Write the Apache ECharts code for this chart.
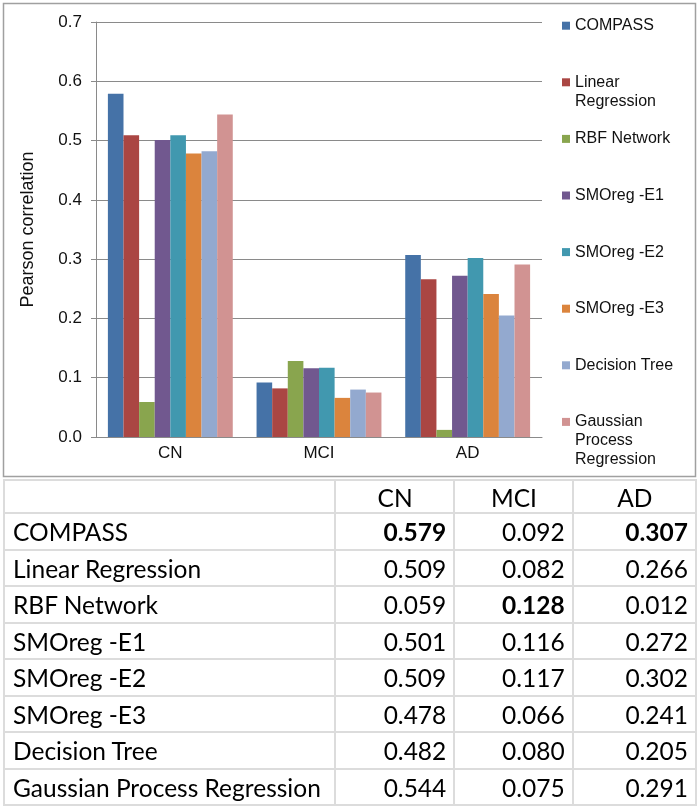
<!DOCTYPE html>
<html>
<head>
<meta charset="utf-8">
<script src="https://cdn.jsdelivr.net/npm/echarts@6/dist/echarts.min.js"></script>
<style>
  body { margin: 0; background: #fff; }
  #chart { position: absolute; left: 0; top: 0; width: 700px; height: 480px; }
  #tbl {
    position: absolute; left: 3px; top: 479px; width: 694px;
    border-collapse: collapse; font-family: Lato, sans-serif; font-size: 24.5px; color: #000;
  }
  #tbl td { border: 2px solid #dcdcdc; padding: 2px 7px 0 8px; height: 32.5px; line-height: 32px; white-space: nowrap; }
  #tbl tr.head td { height: 29px; line-height: 29px; text-align: center; padding-top: 2px; }
  #tbl td.num { text-align: right; }
</style>
</head>
<body>
<div id="chart"></div>
<table id="tbl"></table>
<script>
const categories = ['CN', 'MCI', 'AD'];
const methods = ['COMPASS', 'Linear Regression', 'RBF Network', 'SMOreg -E1',
                 'SMOreg -E2', 'SMOreg -E3', 'Decision Tree', 'Gaussian Process Regression'];
const cnValues  = [0.579, 0.509, 0.059, 0.501, 0.509, 0.478, 0.482, 0.544];
const mciValues = [0.092, 0.082, 0.128, 0.116, 0.117, 0.066, 0.080, 0.075];
const adValues  = [0.307, 0.266, 0.012, 0.272, 0.302, 0.241, 0.205, 0.291];
const colors = ['#4572A7', '#AA4643', '#89A54E', '#71588F', '#4198AF', '#DB843D', '#93A9CF', '#D19392'];

const columns = [cnValues, mciValues, adValues];

// long legend names go one word per line, like the original
function splitName(name) {
  return name.length > 14 ? name.split(' ') : [name];
}
// legend text is centred on the marker, so pad with blank lines on top
// to keep the first line level with the marker
function legendText(name) {
  const lines = splitName(name);
  return '\n'.repeat(lines.length - 1) + lines.join('\n');
}

const lineH = 19;
const legends = methods.map((m, i) => {
  const n = splitName(m).length;
  const center = 25.7 + i * 56.6;
  return {
    data: [m],
    orient: 'vertical',
    left: 562,
    top: center - (2 * n - 1) * lineH / 2,
    padding: 0,
    icon: 'rect',
    itemWidth: 8,
    itemHeight: 8,
    formatter: legendText,
    textStyle: {
      fontFamily: 'Liberation Sans, Arial, sans-serif',
      fontSize: 16,
      color: '#111',
      lineHeight: lineH
    }
  };
});

const myChart = echarts.init(document.getElementById('chart'));
myChart.setOption({
  animation: false,
  color: colors,
  textStyle: { fontFamily: 'Liberation Sans, Arial, sans-serif' },
  graphic: [{
    type: 'rect',
    shape: { x: 3.5, y: 3.5, width: 692, height: 473 },
    style: { fill: 'none', stroke: '#a0a0a0', lineWidth: 1.5 },
    silent: true
  }],
  legend: legends,
  grid: { left: 96, right: 158, top: 22, bottom: 43 },
  xAxis: {
    type: 'category',
    data: categories,
    axisLine: { lineStyle: { color: '#8a8a8a' } },
    axisTick: { length: 5, lineStyle: { color: '#8a8a8a' } },
    axisLabel: { fontSize: 17, color: '#111', margin: 8 }
  },
  yAxis: {
    type: 'value',
    min: 0,
    max: 0.7,
    interval: 0.1,
    name: 'Pearson correlation',
    nameLocation: 'middle',
    nameRotate: 90,
    nameGap: 59,
    nameTextStyle: { fontSize: 18, color: '#111' },
    axisLine: { show: true, lineStyle: { color: '#8a8a8a' } },
    axisTick: { show: true, length: 5, lineStyle: { color: '#8a8a8a' } },
    splitLine: { lineStyle: { color: '#8a8a8a' } },
    axisLabel: { fontSize: 17, color: '#111', margin: 14, formatter: v => v.toFixed(1) }
  },
  series: methods.map((m, i) => ({
    name: m,
    type: 'bar',
    barGap: '0%',
    barCategoryGap: '16%',
    data: columns.map(col => col[i])
  }))
});

// table under the chart, same numbers, column maximum in bold
const tbl = document.getElementById('tbl');
let html = '<colgroup><col style="width:331px"><col style="width:120px"><col style="width:119px"><col style="width:124px"></colgroup>';
html += '<tr class="head"><td></td>' + categories.map(c => '<td>' + c + '</td>').join('') + '</tr>';
const maxes = columns.map(col => Math.max(...col));
methods.forEach((m, i) => {
  html += '<tr><td>' + m + '</td>';
  columns.forEach((col, j) => {
    const v = col[i].toFixed(3);
    html += '<td class="num">' + (col[i] === maxes[j] ? '<b>' + v + '</b>' : v) + '</td>';
  });
  html += '</tr>';
});
tbl.innerHTML = html;
</script>
</body>
</html>
